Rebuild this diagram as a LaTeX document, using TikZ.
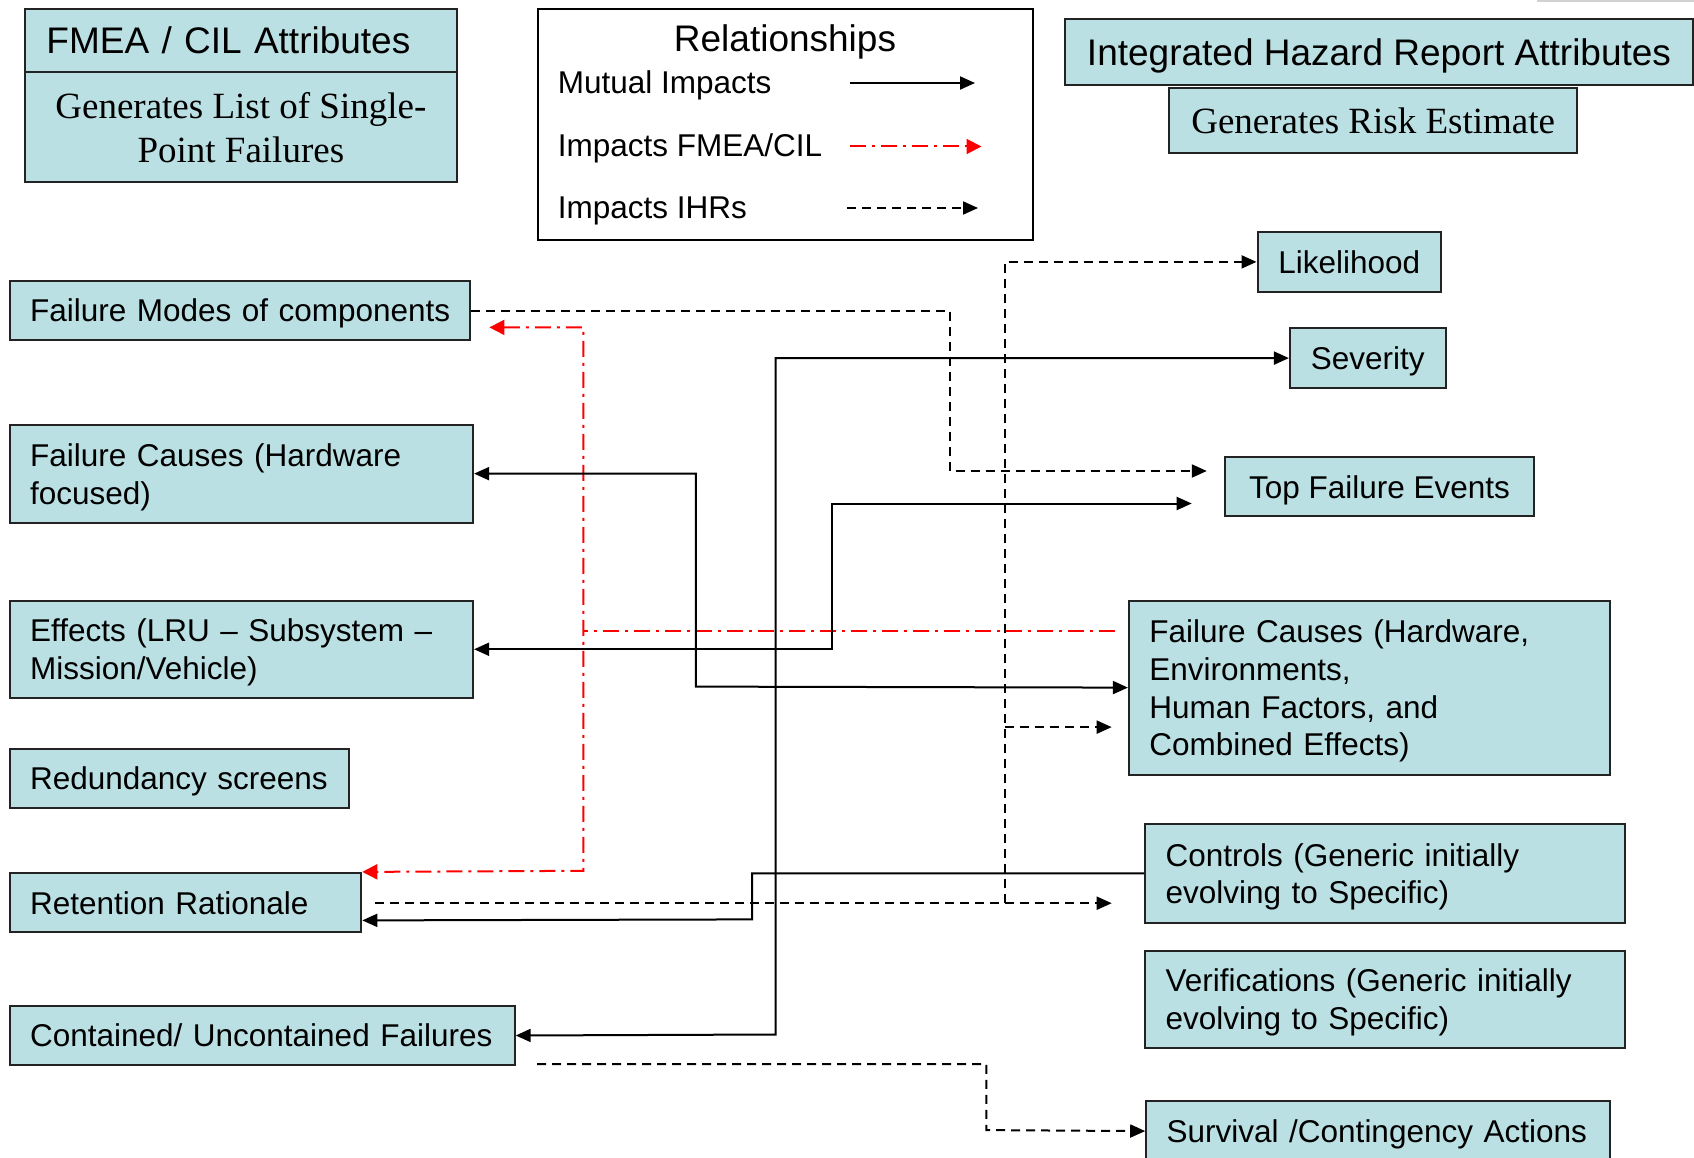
\documentclass[tikz,border=0pt]{standalone}
\usepackage{fontspec}
\setmainfont{Liberation Sans}
\newfontfamily\serifface{Liberation Serif}
\usetikzlibrary{arrows.meta,calc}
\definecolor{boxfill}{RGB}{187,224,227}
\definecolor{boxline}{RGB}{35,35,35}
\newcommand\bxfont{\fontsize{31.5}{37.8}\selectfont}
\newcommand\hdfont{\fontsize{37}{44}\selectfont}
\newcommand\srfont{\serifface\fontsize{37}{44}\selectfont}
\newcommand\bxl[1]{\mbox{#1}}
\newcommand\bxf[1]{\mbox{\rule{0pt}{29.6pt}#1}}
\begin{document}
\begin{tikzpicture}[x=1pt,y=-1pt,
  plainbox/.style={draw=boxline, fill=boxfill, line width=2pt, anchor=north west},
  lbox/.style={plainbox, inner xsep=20.5pt, inner ysep=0pt, align=left, font=\bxfont, text depth=0pt},
  mlbox/.style={plainbox, inner xsep=20.5pt, inner ysep=0pt, align=left, font=\bxfont},
  cbox/.style={plainbox, inner sep=0pt, align=center, font=\bxfont, text depth=0pt},
  tbox/.style={plainbox, inner sep=0pt, align=center},
  tip/.style={-{Triangle[length=15pt,width=13pt]}},
  mutual/.style={line width=2pt, black, tip},
  mutualboth/.style={line width=2pt, black,
    {Triangle[length=15pt,width=13pt]}-{Triangle[length=15pt,width=13pt]}},
  ihr/.style={line width=2pt, black, dash pattern=on 9pt off 6pt, tip},
  fmea/.style={line width=2pt, red, dash pattern=on 16pt off 6pt on 3pt off 6pt},
  fmeatip/.style={fmea, -{Triangle[length=15pt,width=15pt]}},
  fmeaboth/.style={fmea, {Triangle[length=15pt,width=15pt]}-{Triangle[length=15pt,width=15pt]}}
]
\useasboundingbox (0,0) rectangle (1694,1158);
\fill[white] (0,0) rectangle (1694,1158);
\draw[black!18, line width=2pt] (1537,1) -- (1694,1);

% ---------- header boxes ----------
\node[tbox, minimum width=432.1pt, minimum height=110.2pt, font=\srfont] (fmeab) at (23.8,71.3)
  {Generates List of Single-\\Point Failures};
\node[plainbox, inner xsep=21.6pt, inner ysep=0pt, align=left, text width=388.9pt,
  minimum height=63.7pt, font=\hdfont, text depth=0pt] (fmeah) at (23.8,7.6)
  {\bxl{FMEA / CIL Attributes}};

\node[draw=black, line width=2pt, anchor=north west, inner sep=0pt,
  minimum width=494.8pt, minimum height=231.2pt] (legend) at (537,7.6) {};
\node[font=\hdfont, inner sep=0pt] (legtitle) at (785,41.7) {Relationships};
\node[font=\bxfont, anchor=west, inner sep=0pt] (legmut) at (557.7,85) {Mutual Impacts};
\node[font=\bxfont, anchor=west, inner sep=0pt] (legfm) at (557.7,148.5) {Impacts FMEA/CIL};
\node[font=\bxfont, anchor=west, inner sep=0pt] (legihr) at (557.7,211) {Impacts IHRs};
\coordinate (lm1) at (850,83);   \coordinate (lm2) at (975,83);
\coordinate (lf1) at (850,146.5); \coordinate (lf2) at (981.5,146.5);
\coordinate (li1) at (847,208);  \coordinate (li2) at (978,208);
\draw[mutual] (lm1) -- (lm2);
\draw[fmeatip] (lf1) -- (lf2);
\draw[ihr] (li1) -- (li2);

\node[tbox, minimum width=628pt, minimum height=65.9pt, font=\hdfont, text depth=0pt] (ihrt) at (1064,18.4)
  {Integrated Hazard Report Attributes};
\node[tbox, minimum width=408.3pt, minimum height=64.8pt, font=\srfont] (risk) at (1168,87.5)
  {Generates Risk Estimate};

% ---------- left boxes ----------
\node[lbox, text width=419.5pt, minimum height=59.4pt] (fm) at (8.6,279.8) {\bxl{Failure Modes of components}};
\node[mlbox, text width=422.5pt, minimum height=98.3pt] (fch) at (8.6,423.5) {\bxf{Failure Causes (Hardware}\\\bxl{focused)}};
\node[mlbox, text width=422.5pt, minimum height=97.3pt] (eff) at (8.6,599.6) {\bxf{Effects (LRU \textendash{} Subsystem \textendash}\\\bxl{Mission/Vehicle)}};
\node[lbox, text width=298.8pt, minimum height=59.5pt] (red) at (8.6,747.6) {\bxl{Redundancy screens}};
\node[lbox, text width=310.7pt, minimum height=59.4pt] (ret) at (8.6,871.9) {\bxl{Retention Rationale}};
\node[lbox, text width=464.1pt, minimum height=59.4pt] (cont) at (8.6,1004.8) {\bxl{Contained/ Uncontained Failures}};

% ---------- right boxes ----------
\node[cbox, minimum width=183.7pt, minimum height=59.4pt] (lik) at (1256.5,231.2) {Likelihood};
\node[cbox, minimum width=155.6pt, minimum height=59.4pt] (sev) at (1288.9,327.4) {Severity};
\node[cbox, minimum width=309pt, minimum height=59.5pt] (tfe) at (1224.1,455.9) {Top Failure Events};
\node[mlbox, text width=440.3pt, minimum height=174pt] (fc2) at (1127.9,599.6)
  {\bxf{Failure Causes (Hardware,}\\\bxl{Environments,}\\\bxl{Human Factors, and}\\\bxl{Combined Effects)}};
\node[mlbox, text width=439.2pt, minimum height=98.3pt] (ctrl) at (1144.1,823.3)
  {\bxf{Controls (Generic initially}\\\bxl{evolving to Specific)}};
\node[mlbox, text width=439.2pt, minimum height=97.2pt] (ver) at (1144.1,949.7)
  {\bxf{Verifications (Generic initially}\\\bxl{evolving to Specific)}};
\node[lbox, text width=423pt, minimum height=60.6pt] (surv) at (1145.2,1099.8)
  {\bxl{Survival /Contingency Actions}};

% ---------- connectors ----------
% Failure modes -> Top failure events (IHR)
\coordinate (c1e) at (1206.8,471);
\draw[ihr] (fm.east) -| (949.7,471) -- (c1e);

% Failure causes (IHR side) -> FMEA/CIL items (red)
\coordinate (rstart) at (1115,631);
\coordinate (rjoin) at (583.4,631);
\coordinate (rtip) at (489.4,327.4);
\draw[fmea] (rstart) -- (rjoin);
\draw[fmeaboth] (rtip) -- (583.4,327.4) -- (583.4,870.8) -- (ret.north east);

% mutual impacts
\draw[mutualboth] (fch.east) -| (695.8,686.6) -- (fc2.west);
\coordinate (c4e) at (1191.7,503.5);
\draw[mutualboth] (eff.east) -| (831.9,503.5) -- (c4e);
\draw[mutualboth] (sev.west) -| (775.7,1034.5) -- (cont.east);
\coordinate (c6e) at ($(ret.east)+(0,17.8)$);
\draw[mutual] (ctrl.west) -| (752,919.4) -- (c6e);

% Retention rationale -> IHR items
\coordinate (c7s) at (374.9,903.2);
\coordinate (c7e) at (1111.7,903.2);
\coordinate (c7m) at (1111.7,727.1);
\draw[ihr] (c7s) -- (c7e);
\draw[ihr] (1004.8,903.2) |- (lik.west);
\draw[ihr] (1004.8,727.1) -- (c7m);

% Contained/Uncontained -> Survival
\coordinate (c8s) at (537,1064.2);
\draw[ihr] (c8s) -| (986.4,1130.1) -- (surv.west);
\end{tikzpicture}
\end{document}
